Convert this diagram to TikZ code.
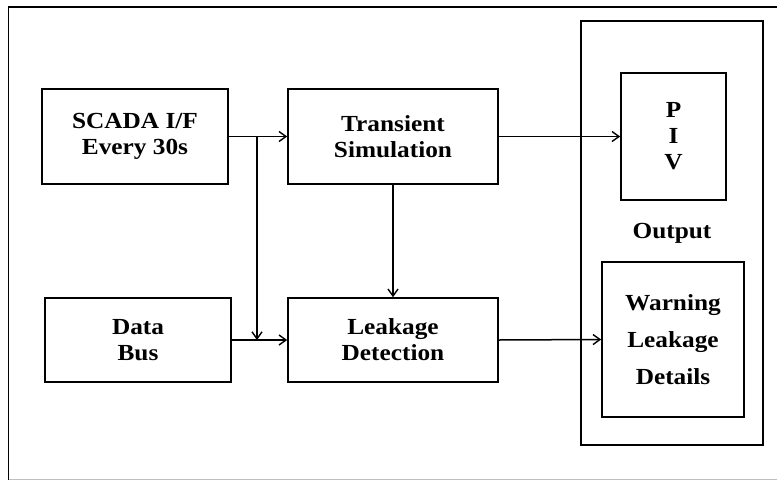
\documentclass[tikz,border=0pt]{standalone}
\usepackage{fontspec}
\setmainfont{Liberation Serif}[FakeStretch=1.1]
\usetikzlibrary{arrows.meta}
\begin{document}
\begin{tikzpicture}[x=1pt,y=-1pt,
  box/.style={draw=black,line width=1.6pt,inner sep=0pt,align=center,
    font=\fontsize{23}{26}\selectfont\bfseries},
  conn/.style={line width=1.5pt,-{Straight Barb[length=7pt,width=10pt,line width=1.4pt]}},
  plain/.style={line width=1.5pt}]
\useasboundingbox (0,0) rectangle (777,480);
\draw[line width=1.2pt] (8.5,480) -- (8.5,7) -- (777,7);
\draw[line width=0.6pt,black!25] (8.5,479) -- (777,479);
\node[box,minimum width=186pt,minimum height=95pt] (scada) at (135,136.5) {SCADA I/F\\Every 30s};
\node[box,minimum width=210pt,minimum height=95pt] (trans) at (393,136.5) {Transient\\Simulation};
\node[box,minimum width=186pt,minimum height=84pt] (data) at (138,340) {Data\\Bus};
\node[box,minimum width=210pt,minimum height=84pt] (leak) at (393,340) {Leakage\\Detection};
\node[box,minimum width=182pt,minimum height=424pt] (out) at (672,233) {};
\node[box,minimum width=105pt,minimum height=127pt] (piv) at (673.5,136.5) {P\\I\\V};
\node[box,minimum width=142pt,minimum height=155pt,font=\fontsize{23}{37}\selectfont\bfseries] (warn) at (673,339.5) {Warning\\Leakage\\Details};
\node[font=\fontsize{23}{26}\selectfont\bfseries] (outlbl) at (672,233) {Output};
\coordinate (j1) at (257,137);
\coordinate (j2) at (257,340);
\draw[conn] (scada.east) -- (trans.west);
\draw[conn] (j1) -- (j2);
\draw[conn] (data.east) -- (leak.west);
\draw[conn] (trans.south) -- (leak.north);
\draw[conn] (trans.east) -- (piv.west);
\draw[conn] (leak.east) -- (warn.west);
\end{tikzpicture}
\end{document}
